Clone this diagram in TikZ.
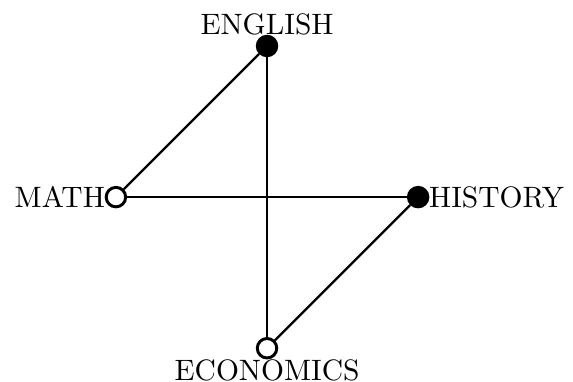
\documentclass[tikz,border=0pt]{standalone}
\usepackage{tikz}
\usetikzlibrary{positioning}

\begin{document}
\begin{tikzpicture}[thick,
  vtx/.style={circle,draw,line width=1pt,inner sep=0pt,minimum size=6.6pt},
  full/.style={vtx,fill=black},
  hollow/.style={vtx,fill=white}]
  \useasboundingbox (-90.5pt,-62.4pt) rectangle (103.7pt,66.8pt);

  \coordinate (e) at (0,1.8);
  \coordinate (m) at (-1.8,0);
  \coordinate (h) at (1.8,0);
  \coordinate (c) at (0,-1.8);

  % labels sit under the vertices
  \node[above] (englbl) at (e) {ENGLISH};
  \node[left]  (mathlbl) at (m) {MATH};
  \node[right] (histlbl) at (h) {HISTORY};
  \node[below] (econlbl) at (c) {ECONOMICS};

  \node[full]   (eng)  at (e) {};
  \node[hollow] (math) at (m) {};
  \node[full]   (hist) at (h) {};
  \node[hollow] (econ) at (c) {};

  \draw (math) -- (eng);
  \draw (math) -- (hist);
  \draw (eng) -- (econ);
  \draw (hist) -- (econ);
\end{tikzpicture}
\end{document}
